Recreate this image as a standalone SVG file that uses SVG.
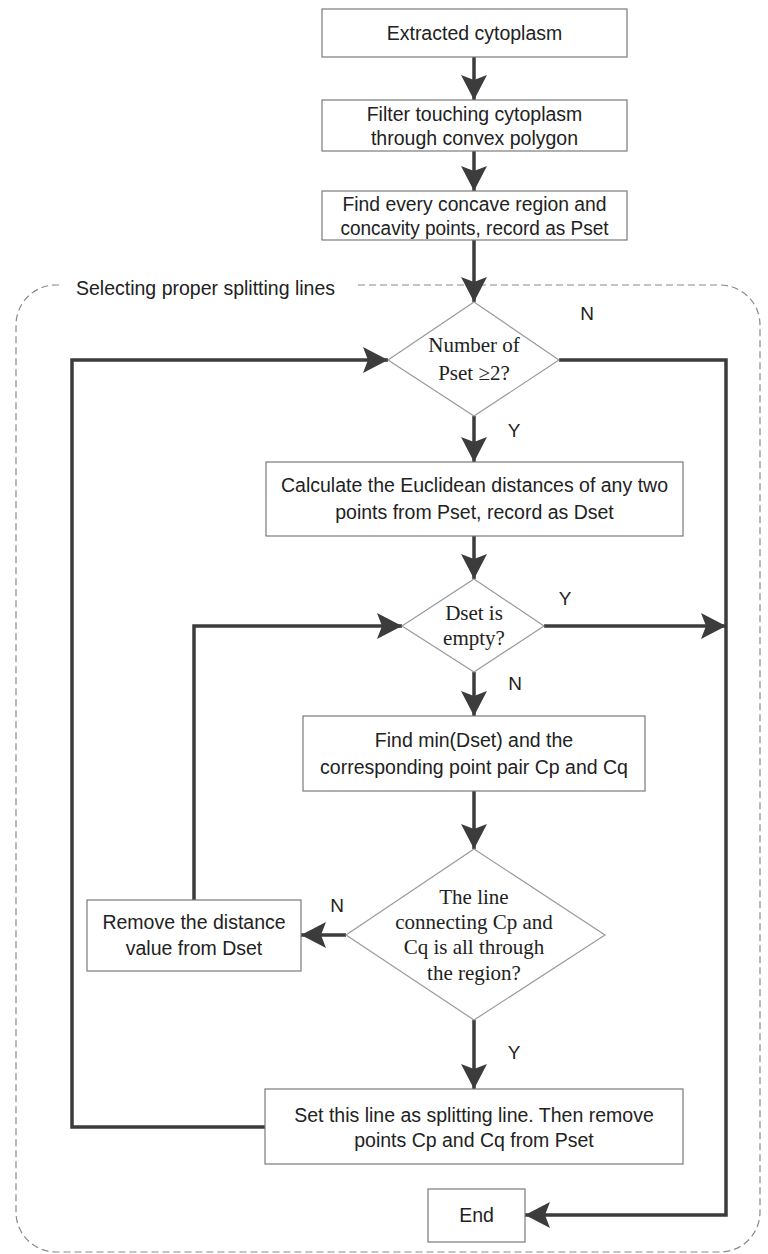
<svg xmlns="http://www.w3.org/2000/svg" width="768" height="1254" viewBox="0 0 768 1254">
<style>
.box{fill:#fff;stroke:#7a7a7a;stroke-width:1.2}
.dia{fill:#fff;stroke:#9a9a9a;stroke-width:1.2}
.t{font-family:"Liberation Sans",Arial,sans-serif;font-size:19.5px;fill:#222;text-anchor:middle;dominant-baseline:central}
.s{font-family:"Liberation Serif","Times New Roman",serif;font-size:21px;fill:#222;text-anchor:middle;dominant-baseline:central}
.lbl{font-family:"Liberation Sans",Arial,sans-serif;font-size:19px;fill:#222;text-anchor:middle;dominant-baseline:central}
.c{fill:none;stroke:#3c3c3c;stroke-width:3.5;marker-end:url(#ah)}
</style>
<defs>
<marker id="ah" markerUnits="userSpaceOnUse" markerWidth="30" markerHeight="30" viewBox="-26 -15 28 30" refX="0" refY="0" orient="auto">
<path d="M0,0 L-25,-13 L-20,0 L-25,13 Z" fill="#3c3c3c"/>
</marker>
</defs>
<rect width="768" height="1254" fill="#fff"/>

<g id="container">
<path d="M358,285 H720 A40,40 0 0 1 760,325 V1212 A40,40 0 0 1 720,1252 H56 A40,40 0 0 1 16,1212 V325 A40,40 0 0 1 56,285 H60" fill="none" stroke="#8a8a8a" stroke-width="1.2" stroke-dasharray="7 4"/>
<text class="t" x="76" y="288" style="text-anchor:start">Selecting proper splitting lines</text>
</g>

<g id="connectors">
<path class="c" d="M474,57 V100"/>
<path class="c" d="M474,151 V191"/>
<path class="c" d="M474,240 V302"/>
<path class="c" d="M474,416 V462"/>
<path class="c" d="M474,536 V579"/>
<path class="c" d="M474,672 V716"/>
<path class="c" d="M474,791 V849"/>
<path class="c" d="M474,1020 V1089"/>
<path class="c" d="M346,935 H301"/>
<path class="c" d="M194,900 V626 H402"/>
<path class="c" d="M265,1127 H72 V360 H388"/>
<path class="c" d="M559,360 H726 V1215 H525"/>
<path class="c" d="M544,626 H726"/>
<text class="lbl" x="587" y="313">N</text>
<text class="lbl" x="514" y="430">Y</text>
<text class="lbl" x="565" y="598">Y</text>
<text class="lbl" x="515" y="683">N</text>
<text class="lbl" x="337" y="905">N</text>
<text class="lbl" x="514" y="1052">Y</text>
</g>

<g id="n1">
<rect class="box" x="322" y="9" width="305" height="48"/>
<text class="t" x="474.5" y="33">Extracted cytoplasm</text>
</g>
<g id="n2">
<rect class="box" x="322" y="100" width="305" height="51"/>
<text class="t" x="474.5" y="114">Filter touching cytoplasm</text>
<text class="t" x="474.5" y="138">through convex polygon</text>
</g>
<g id="n3">
<rect class="box" x="322" y="191" width="305" height="49"/>
<text class="t" x="474.5" y="204" textLength="264" lengthAdjust="spacingAndGlyphs">Find every concave region and</text>
<text class="t" x="474.5" y="228" textLength="268" lengthAdjust="spacingAndGlyphs">concavity points, record as Pset</text>
</g>
<g id="d1">
<polygon class="dia" points="474,302 559,360 474,416 388,360"/>
<text class="s" x="474" y="345">Number of</text>
<text class="s" x="474" y="373">Pset ≥2?</text>
</g>
<g id="n4">
<rect class="box" x="266" y="462" width="417" height="74"/>
<text class="t" x="474.5" y="485">Calculate the Euclidean distances of any two</text>
<text class="t" x="474.5" y="512">points from Pset, record as Dset</text>
</g>
<g id="d2">
<polygon class="dia" points="474,579 544,626 474,672 402,626"/>
<text class="s" x="474" y="613">Dset is</text>
<text class="s" x="474" y="638">empty?</text>
</g>
<g id="n5">
<rect class="box" x="303" y="716" width="342" height="75"/>
<text class="t" x="474" y="740">Find min(Dset) and the</text>
<text class="t" x="474" y="767">corresponding point pair Cp and Cq</text>
</g>
<g id="d3">
<polygon class="dia" points="474,849 605,935 474,1020 346,935"/>
<text class="s" x="474" y="897">The line</text>
<text class="s" x="474" y="922">connecting Cp and</text>
<text class="s" x="474" y="947">Cq is all through</text>
<text class="s" x="474" y="973">the region?</text>
</g>
<g id="n6">
<rect class="box" x="87" y="900" width="214" height="71"/>
<text class="t" x="194" y="922">Remove the distance</text>
<text class="t" x="194" y="948">value from Dset</text>
</g>
<g id="n7">
<rect class="box" x="265" y="1089" width="418" height="75"/>
<text class="t" x="474" y="1115">Set this line as splitting line. Then remove</text>
<text class="t" x="474" y="1140">points Cp and Cq from Pset</text>
</g>
<g id="n8">
<rect class="box" x="428" y="1189" width="97" height="53"/>
<text class="t" x="476.5" y="1215">End</text>
</g>
</svg>
